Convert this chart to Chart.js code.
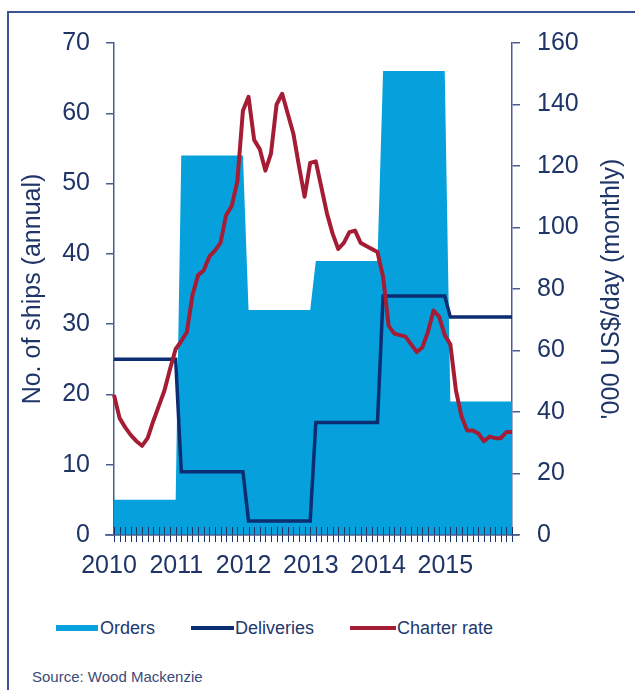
<!DOCTYPE html>
<html>
<head>
<meta charset="utf-8">
<script src="https://cdn.jsdelivr.net/npm/chart.js@4.4.1/dist/chart.umd.min.js"></script>
<style>
  body { margin: 0; background: #fff; }
  #wrap { position: relative; width: 635px; height: 690px; overflow: hidden; font-family: "Liberation Sans", Arial, sans-serif; }
  #frame { position: absolute; left: 7px; top: 11px; width: 700px; height: 700px; border-left: 2px solid #3a5597; border-top: 2px solid #3a5597; }
  #chart { position: absolute; left: 0; top: 0; }
  .key { position: absolute; top: 616px; font-size: 18px; line-height: 24px; color: #22386c; white-space: nowrap; }
  .sw { position: absolute; }
  #source { position: absolute; left: 32px; top: 668px; font-family: "Liberation Sans Narrow", "Liberation Sans", sans-serif; font-size: 15px; color: #3c4a78; }
</style>
</head>
<body>
<div id="wrap">
  <div id="frame"></div>
  <canvas id="chart" width="635" height="600"></canvas>
  <span class="sw" style="left:56px;top:625px;width:42px;height:6px;background:#08a2de"></span>
  <div class="key" style="left:100px">Orders</div>
  <span class="sw" style="left:191px;top:626px;width:43px;height:4px;background:#0b2d72"></span>
  <div class="key" style="left:235px">Deliveries</div>
  <span class="sw" style="left:350px;top:626px;width:46px;height:4px;background:#a51d35"></span>
  <div class="key" style="left:397px">Charter rate</div>
  <div id="source">Source: Wood Mackenzie</div>
</div>
<script>
// annual values (ships), drawn as monthly steps
var years = ['2010', '2011', '2012', '2013', '2014', '2015'];
var ordersByYear = [5, 54, 32, 39, 66, 19];
var deliveriesByYear = [25, 9, 2, 16, 34, 31];

// monthly charter rate, '000 US$/day, Jan 2010 - Dec 2015
var charterRate = [
    45.5, 38, 35, 32.5, 30.5, 29, 31.5, 37, 42, 47, 54, 60.5,
    63, 66, 78, 84.5, 86, 90.5, 92.5, 95, 104, 107, 115, 138,
    142.5, 128.5, 125.5, 118.5, 124, 140, 143.5, 137, 130.5, 120, 110, 121,
    121.5, 113, 104.5, 98, 93, 95, 98.5, 99, 95, 94, 93, 92,
    84, 68, 65.5, 65, 64.5, 62, 59.5, 61, 66, 73, 71, 65,
    62, 47, 38.5, 34, 34, 33, 30.5, 32, 31.5, 31.5, 33.5, 33.5
];

var navy = '#1f3568';
var axisCol = '#4a5d8c';
var tickFont = { family: 'Liberation Sans', size: 25 };

var labels = [], orders = [], deliveries = [];
years.forEach(function (y, k) {
    for (var m = 0; m < 12; m++) {
        labels.push(m === 0 ? y : '');
        orders.push(ordersByYear[k]);
        deliveries.push(deliveriesByYear[k]);
    }
});

var extras = {
    id: 'extras',
    afterDraw: function (chart) {
        var ctx = chart.ctx, x = chart.scales.x, a = chart.chartArea;
        ctx.save();
        ctx.strokeStyle = navy;
        ctx.lineWidth = 1;
        for (var i = 0; i < labels.length; i++) {
            var px = Math.round(x.getPixelForValue(i)) + 0.5;
            ctx.beginPath();
            ctx.moveTo(px, a.bottom - 8);
            ctx.lineTo(px, a.bottom + 7);
            ctx.stroke();
        }
        ctx.strokeStyle = axisCol;
        ctx.lineWidth = 1.5;
        ctx.beginPath();
        ctx.moveTo(a.left - 9, a.bottom);
        ctx.lineTo(a.right + 7, a.bottom);
        ctx.stroke();
        // right axis title reads bottom to top
        ctx.translate(612, (a.top + a.bottom) / 2);
        ctx.rotate(-Math.PI / 2);
        ctx.fillStyle = navy;
        ctx.font = '25px "Liberation Sans"';
        ctx.textAlign = 'center';
        ctx.textBaseline = 'middle';
        ctx.fillText("'000 US$/day (monthly)", 0, 0);
        ctx.restore();
    }
};

var chart = new Chart(document.getElementById('chart'), {
    type: 'line',
    data: {
        labels: labels,
        datasets: [
            { label: 'Charter rate', data: charterRate, yAxisID: 'y2', order: 1,
              borderColor: '#a51d35', borderWidth: 4, borderJoinStyle: 'round',
              pointRadius: 0, fill: false },
            { label: 'Deliveries', data: deliveries, yAxisID: 'y', order: 2,
              borderColor: '#0b2d72', borderWidth: 3.5, pointRadius: 0, fill: false },
            { label: 'Orders', data: orders, yAxisID: 'y', order: 3,
              borderWidth: 0, borderColor: 'rgba(0,0,0,0)', backgroundColor: '#06a1dd',
              pointRadius: 0, fill: 'origin' }
        ]
    },
    options: {
        responsive: false,
        animation: false,
        layout: { padding: { top: 43, right: 0, left: 0, bottom: 0 } },
        plugins: { legend: { display: false }, tooltip: { enabled: false } },
        scales: {
            x: {
                grid: { display: false, drawTicks: false },
                border: { display: false },
                ticks: { autoSkip: false, maxRotation: 0, padding: 16, labelOffset: -5,
                         color: navy, font: tickFont },
                afterFit: function (s) { s.height = 65; }
            },
            y: {
                position: 'left', min: 0, max: 70,
                grid: { drawOnChartArea: false, tickLength: 8, color: axisCol, lineWidth: 1.5 },
                border: { color: axisCol, width: 1.5 },
                ticks: { stepSize: 10, padding: 16, color: navy, font: tickFont },
                title: { display: true, text: 'No. of ships (annual)', color: navy,
                         font: tickFont, padding: { top: 18, bottom: 0 } },
                afterFit: function (s) { s.width = 114; }
            },
            y2: {
                position: 'right', min: 0, max: 160,
                grid: { drawOnChartArea: false, tickLength: 8, color: axisCol, lineWidth: 1.5 },
                border: { color: axisCol, width: 1.5 },
                ticks: { stepSize: 20, padding: 17, color: navy, font: tickFont },
                afterFit: function (s) { s.width = 123; }
            }
        }
    },
    plugins: [extras]
});
</script>
</body>
</html>
